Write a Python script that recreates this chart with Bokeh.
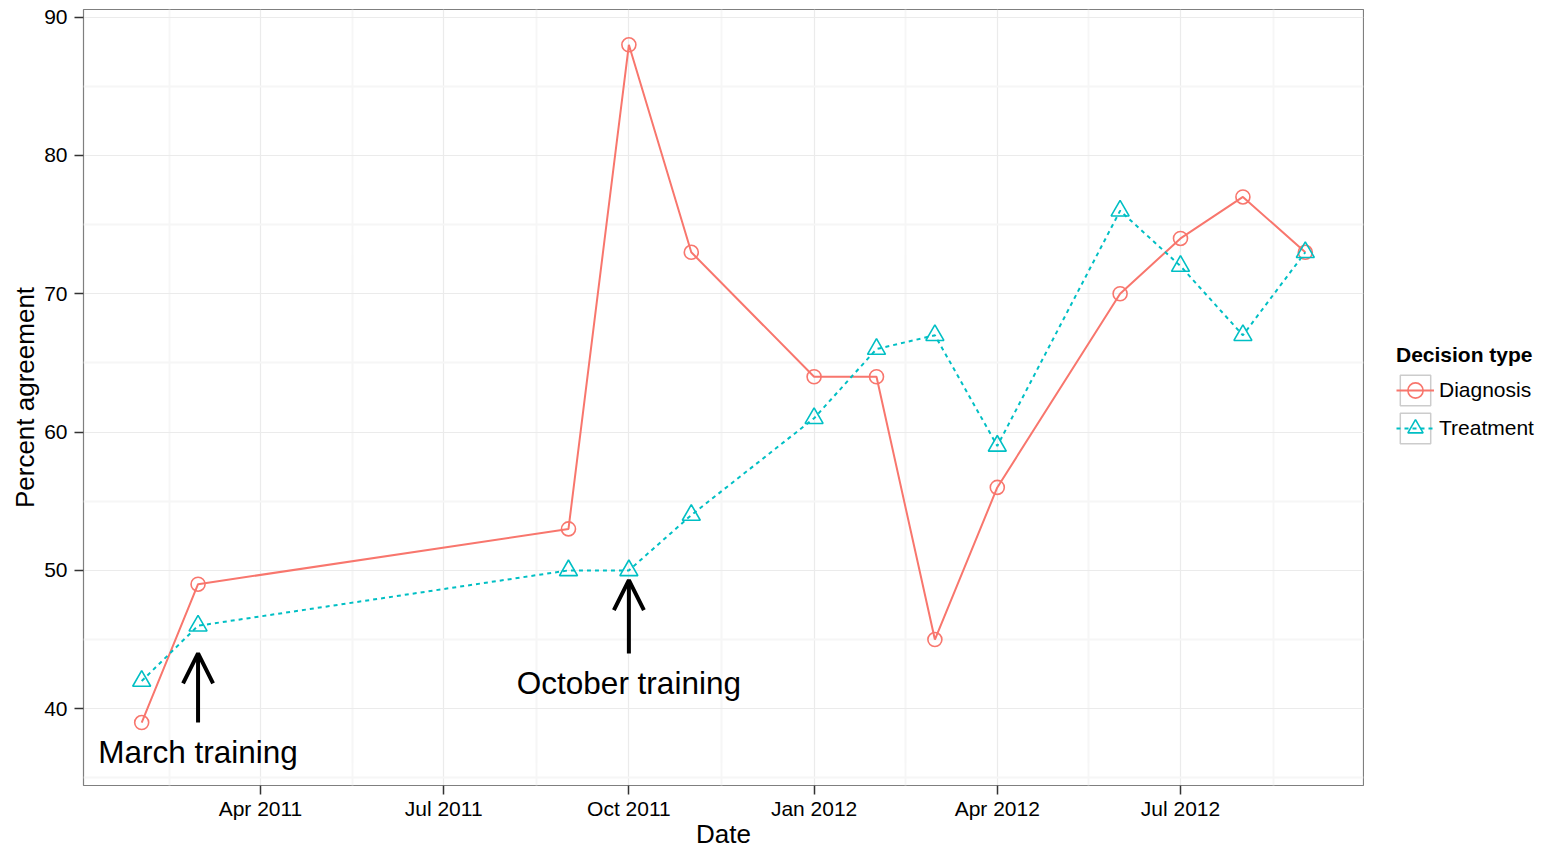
import pandas as pd
from bokeh.plotting import figure
from bokeh.layouts import row
from bokeh.models import (ColumnDataSource, FixedTicker, DatetimeTickFormatter, Legend,
                          LegendItem, Arrow, OpenHead, Range1d)
from bokeh.core.properties import value
from bokeh.embed import file_html
from bokeh.resources import INLINE

# ---------------- data ----------------
dates = ["2011-02-01", "2011-03-01", "2011-09-01", "2011-10-01", "2011-11-01",
         "2012-01-01", "2012-02-01", "2012-03-01", "2012-04-01", "2012-06-01",
         "2012-07-01", "2012-08-01", "2012-09-01"]
diagnosis = [39, 49, 53, 88, 73, 64, 64, 45, 56, 70, 74, 77, 73]
treatment = [42, 46, 50, 50, 54, 61, 66, 67, 59, 76, 72, 67, 73]

x_tick_dates = ["2011-01-01", "2011-04-01", "2011-07-01", "2011-10-01",
                "2012-01-01", "2012-04-01", "2012-07-01", "2012-10-01"]
y_ticks = [40, 50, 60, 70, 80, 90]
y_minor_ticks = [35, 45, 55, 65, 75, 85]

annot_labels = ["March training", "October training"]
annot_dates = ["2011-03-01", "2011-10-01"]
annot_text_y = [37, 42]
arrow_y_start = [39, 44]
arrow_y_end = [44, 49.3]

series_names = ["Diagnosis", "Treatment"]
series_colors = ["#F8766D", "#00BFC4"]
legend_title = "Decision type"

FONT = "Liberation Sans"


def ms(s):
    return pd.Timestamp(s).value / 1e6


xs = [ms(d) for d in dates]
x_span = max(xs) - min(xs)
x_start, x_end = min(xs) - 0.05 * x_span, max(xs) + 0.05 * x_span

all_y = diagnosis + treatment + annot_text_y + arrow_y_start + arrow_y_end
y_span = max(all_y) - min(all_y)
y_start, y_end = min(all_y) - 0.05 * y_span, max(all_y) + 0.05 * y_span

tick_ms = [ms(d) for d in x_tick_dates]
major_x = [t for t in tick_ms if x_start <= t <= x_end]
minor_x = [(a + b) / 2 for a, b in zip(tick_ms[:-1], tick_ms[1:])]

H = 851

# ---------------- main figure ----------------
p = figure(width=1364, height=H, x_axis_type="datetime",
           x_range=Range1d(x_start, x_end), y_range=Range1d(y_start, y_end),
           output_backend="svg", toolbar_location=None,
           min_border_left=83, min_border_right=1, min_border_top=9, min_border_bottom=66)

p.background_fill_color = "white"
p.border_fill_color = "white"
p.outline_line_color = "#7F7F7F"
p.outline_line_width = 1.2

p.xaxis.ticker = FixedTicker(ticks=major_x, minor_ticks=minor_x)
fmt = "%b %Y"
p.xaxis.formatter = DatetimeTickFormatter(
    microseconds=fmt, milliseconds=fmt, seconds=fmt, minsec=fmt, minutes=fmt,
    hourmin=fmt, hours=fmt, days=fmt, months=fmt, years=fmt)
p.yaxis.ticker = FixedTicker(ticks=y_ticks, minor_ticks=y_minor_ticks)

for ax in (p.xaxis, p.yaxis):
    ax.axis_line_color = None
    ax.major_tick_line_color = "#333333"
    ax.major_tick_line_width = 1.5
    ax.major_tick_in = 0
    ax.major_tick_out = 9
    ax.minor_tick_in = 0
    ax.minor_tick_out = 0
    ax.major_label_text_font = FONT
    ax.major_label_text_font_size = "21px"
    ax.major_label_text_color = "black"
    ax.axis_label_text_font = FONT
    ax.axis_label_text_font_size = "26px"
    ax.axis_label_text_font_style = "normal"
    ax.axis_label_text_color = "black"

p.xaxis.axis_label = "Date"
p.yaxis.axis_label = "Percent agreement"
p.xaxis.major_label_standoff = 2
p.xaxis.axis_label_standoff = -4
p.yaxis.major_label_standoff = 7
p.yaxis.axis_label_standoff = 1

for g in (p.xgrid, p.ygrid):
    g.grid_line_color = "#EBEBEB"
    g.grid_line_width = 1.2
    g.minor_grid_line_color = "#F6F6F6"
    g.minor_grid_line_width = 2

src = ColumnDataSource(dict(x=pd.to_datetime(dates), d=diagnosis, t=treatment))

line_style = [dict(line_width=2), dict(line_width=2, line_dash="4 4")]
marker_style = [dict(marker="circle", size=14), dict(marker="triangle", size=18)]

p.line("x", "d", source=src, line_color=series_colors[0], **line_style[0])
p.scatter("x", "d", source=src, fill_color=None, line_color=series_colors[0],
          line_width=1.6, **marker_style[0])
p.line("x", "t", source=src, line_color=series_colors[1], **line_style[1])
p.scatter("x", "t", source=src, fill_color=None, line_color=series_colors[1],
          line_width=1.6, **marker_style[1])

ann_src = ColumnDataSource(dict(x=pd.to_datetime(annot_dates), ys=arrow_y_start,
                                ye=arrow_y_end, ty=annot_text_y, label=annot_labels))
p.add_layout(Arrow(end=OpenHead(size=30, line_width=4, line_color="black"),
                   x_start="x", y_start="ys", x_end="x", y_end="ye", source=ann_src,
                   line_width=4, line_color="black"))
p.text("x", "ty", text="label", source=ann_src, text_font=value(FONT),
       text_font_size="31.5px", text_align="center", text_baseline="middle",
       text_color="black", y_offset=2)

# ---------------- legend figure (right of the panel) ----------------
q = figure(width=1543 - 1364, height=H, x_range=(0, 1), y_range=(0, 1),
           output_backend="svg", toolbar_location=None,
           x_axis_location=None, y_axis_location=None,
           min_border_left=0, min_border_right=0, min_border_top=0, min_border_bottom=0)
q.outline_line_color = None
q.grid.visible = False
q.background_fill_color = "white"
q.border_fill_color = "white"

key_src = ColumnDataSource(dict(x=[0.5], y=[0.5]))
key_box = q.rect("x", "y", width=0, height=0, source=key_src, fill_color="white",
                 line_color="#CCCCCC", line_width=1.5)
items = []
for i, name in enumerate(series_names):
    lr = q.line("x", "y", source=key_src, line_color=series_colors[i], **line_style[i])
    mr = q.scatter("x", "y", source=key_src, fill_color=None, line_color=series_colors[i],
                   line_width=1.6, **marker_style[i])
    for r in (lr, mr):
        r.visible = False
    items.append(LegendItem(label=name, renderers=[key_box, lr, mr]))
key_box.visible = False

legend = Legend(items=items, location=(32, 338))
legend.title = legend_title
legend.title_text_font = FONT
legend.title_text_font_size = "21px"
legend.title_text_font_style = "bold"
legend.title_text_color = "black"
legend.title_standoff = 4
legend.label_text_font = FONT
legend.label_text_font_size = "21px"
legend.label_text_color = "black"
legend.label_standoff = 5
legend.glyph_width = 38
legend.glyph_height = 38
legend.label_height = 38
legend.spacing = 0
legend.padding = 0
legend.margin = 0
legend.border_line_color = None
legend.background_fill_alpha = 0
q.add_layout(legend, "center")

layout = row(p, q)
open("out.html", "w").write(file_html(layout, INLINE))
